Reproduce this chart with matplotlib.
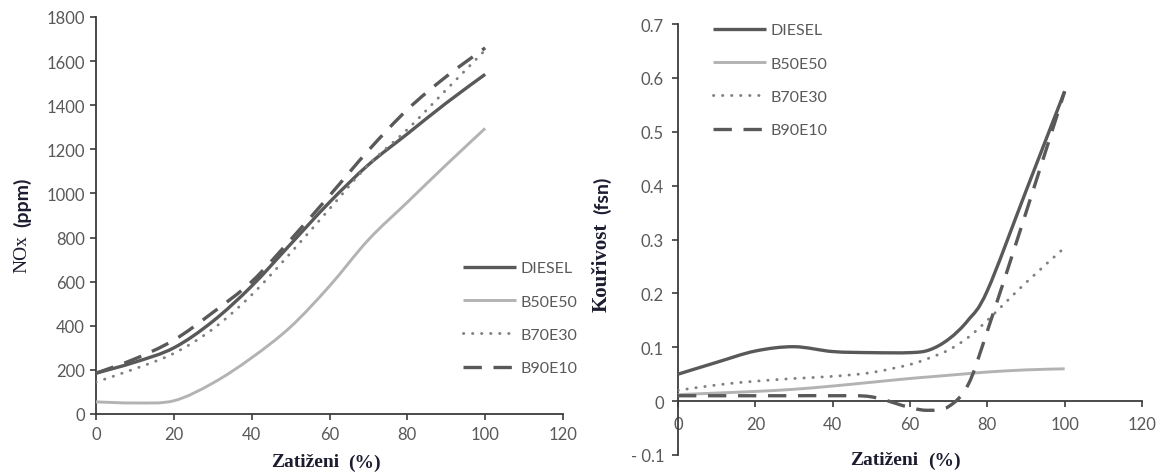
import numpy as np
import matplotlib
matplotlib.use("Agg")
import matplotlib.pyplot as plt
from matplotlib.path import Path
from matplotlib.patches import PathPatch
from matplotlib.lines import Line2D
from matplotlib.ticker import FixedLocator, FixedFormatter

# ---- data -------------------------------------------------------------
load = [0, 10, 20, 30, 40, 50, 60, 70, 80, 90, 100]
series_names = ["DIESEL", "B50E50", "B70E30", "B90E10"]

nox_diesel = [185, 235, 300, 420, 580, 770, 960, 1130, 1270, 1410, 1540]
nox_b50e50 = [55, 50, 60, 140, 255, 395, 580, 790, 960, 1130, 1295]
nox_b70e30 = [145, 205, 275, 385, 540, 730, 930, 1130, 1290, 1470, 1650]
nox_b90e10 = [185, 250, 335, 460, 600, 790, 990, 1195, 1380, 1530, 1660]

smoke_load = [0, 10, 20, 30, 40, 50, 60, 65, 70, 75, 80, 90, 100]
smoke_diesel = [0.050, 0.072, 0.093, 0.101, 0.092, 0.090, 0.090, 0.095,
                0.115, 0.150, 0.205, 0.390, 0.575]
smoke_b50e50 = [0.012, 0.015, 0.018, 0.022, 0.028, 0.035, 0.042, 0.045,
                0.048, 0.051, 0.054, 0.058, 0.060]
smoke_b70e30 = [0.020, 0.030, 0.037, 0.042, 0.046, 0.053, 0.068, 0.080,
                0.095, 0.118, 0.150, 0.220, 0.285]
smoke_b90e10 = [0.010, 0.010, 0.010, 0.010, 0.010, 0.008, -0.012, -0.017,
                -0.010, 0.030, 0.130, 0.350, 0.575]

nox_ticks = [0, 200, 400, 600, 800, 1000, 1200, 1400, 1600, 1800]
smoke_ticks = [-0.1, 0, 0.1, 0.2, 0.3, 0.4, 0.5, 0.6, 0.7]
smoke_tick_labels = ["- 0.1", "0", "0.1", "0.2", "0.3", "0.4", "0.5", "0.6", "0.7"]
x_ticks = [0, 20, 40, 60, 80, 100, 120]

# ---- styles -----------------------------------------------------------
DARK = "#595959"
LIGHT = "#b3b3b3"
MID = "#808080"
styles = {
    "DIESEL": dict(color=DARK, lw=2.4, ls="-", cap="butt"),
    "B50E50": dict(color=LIGHT, lw=2.1, ls="-", cap="butt"),
    "B70E30": dict(color=MID, lw=2.1, ls=(0, (0.1, 3.0)), cap="round"),
    "B90E10": dict(color=DARK, lw=2.4, ls=(0, (5.5, 3.5)), cap="butt"),
}

TICK_FONT = "Lato"
SERIF = "Liberation Serif"
LABEL_COLOR = "#1c1c30"
TICK_SIZE = 12
W, H = 1168, 477


def smooth_path(x, y, tension=0.5):
    """Cubic Bezier path through the points (Catmull-Rom style smoothing)."""
    x = np.asarray(x, float)
    y = np.asarray(y, float)
    verts = [(x[0], y[0])]
    codes = [Path.MOVETO]
    n = len(x)
    for i in range(n - 1):
        x0, y0 = (x[i - 1], y[i - 1]) if i > 0 else (x[i], y[i])
        x3, y3 = (x[i + 2], y[i + 2]) if i + 2 < n else (x[i + 1], y[i + 1])
        x1, y1 = x[i], y[i]
        x2, y2 = x[i + 1], y[i + 1]
        c1 = (x1 + (x2 - x0) * tension / 3, y1 + (y2 - y0) * tension / 3)
        c2 = (x2 - (x3 - x1) * tension / 3, y2 - (y3 - y1) * tension / 3)
        verts += [c1, c2, (x2, y2)]
        codes += [Path.CURVE4] * 3
    return Path(verts, codes)


def draw_series(ax, x, y, name):
    st = styles[name]
    patch = PathPatch(smooth_path(x, y), fill=False, edgecolor=st["color"],
                      lw=st["lw"], linestyle=st["ls"], capstyle=st["cap"],
                      joinstyle="round", zorder=3)
    ax.add_patch(patch)


def legend_handles():
    hs = []
    for name in series_names:
        st = styles[name]
        hs.append(Line2D([], [], color=st["color"], lw=st["lw"],
                         linestyle=st["ls"], dash_capstyle=st["cap"],
                         solid_capstyle="butt"))
    return hs


def style_axes(ax):
    for side in ("top", "right"):
        ax.spines[side].set_visible(False)
    for side in ("left", "bottom"):
        ax.spines[side].set_color("#3c3c3c")
        ax.spines[side].set_linewidth(1.3)
    ax.tick_params(axis="both", direction="out", length=4, width=1.2,
                   color="#3c3c3c", labelcolor=DARK, labelsize=TICK_SIZE)
    for lab in ax.get_xticklabels() + ax.get_yticklabels():
        lab.set_fontfamily(TICK_FONT)


def add_legend(ax, x_px, y_px, ax_left, ax_top, ax_w, ax_h):
    leg = ax.legend(legend_handles(), series_names, loc="upper left",
                    bbox_to_anchor=((x_px - ax_left) / ax_w, 1 - (y_px - ax_top) / ax_h),
                    frameon=False, handlelength=3.3, handletextpad=0.3,
                    labelspacing=1.2, borderaxespad=0, borderpad=0,
                    prop=dict(family=TICK_FONT, size=TICK_SIZE - 0.5))
    for t in leg.get_texts():
        t.set_color(DARK)
    return leg


fig = plt.figure(figsize=(W / 100, H / 100), dpi=100)
fig.patch.set_facecolor("white")

# ---- left: NOx --------------------------------------------------------
L1, T1, R1, B1 = 96, 18, 563, 415
ax1 = fig.add_axes([L1 / W, 1 - B1 / H, (R1 - L1) / W, (B1 - T1) / H])
ax1.set_xlim(0, 120)
ax1.set_ylim(0, 1800)
ax1.xaxis.set_major_locator(FixedLocator(x_ticks))
ax1.yaxis.set_major_locator(FixedLocator(nox_ticks))
for name, vals in zip(series_names, [nox_diesel, nox_b50e50, nox_b70e30, nox_b90e10]):
    draw_series(ax1, load, vals, name)
style_axes(ax1)
ax1.tick_params(axis="x", pad=5)
ax1.tick_params(axis="y", pad=4)
for lab in ax1.get_xticklabels() + ax1.get_yticklabels():
    lab.set_fontfamily(TICK_FONT)
add_legend(ax1, 463, 262, L1, T1, R1 - L1, B1 - T1)

# ---- right: smoke -----------------------------------------------------
L2, T2, R2, B2 = 678, 25, 1142, 456
ax2 = fig.add_axes([L2 / W, 1 - B2 / H, (R2 - L2) / W, (B2 - T2) / H])
ax2.set_xlim(0, 120)
ax2.set_ylim(-0.1, 0.7)
ax2.xaxis.set_major_locator(FixedLocator(x_ticks))
ax2.yaxis.set_major_locator(FixedLocator(smoke_ticks))
ax2.yaxis.set_major_formatter(FixedFormatter(smoke_tick_labels))
for name, vals in zip(series_names, [smoke_diesel, smoke_b50e50, smoke_b70e30, smoke_b90e10]):
    draw_series(ax2, smoke_load, vals, name)
style_axes(ax2)
ax2.spines["bottom"].set_position(("data", 0))
ax2.tick_params(axis="x", pad=7)
ax2.tick_params(axis="y", pad=6)
for lab in ax2.get_xticklabels() + ax2.get_yticklabels():
    lab.set_fontfamily(TICK_FONT)
add_legend(ax2, 713, 24, L2, T2, R2 - L2, B2 - T2)

# ---- axis titles (serif word + bold unit) -----------------------------
def ftext(x, y, s, **kw):
    fig.text(x / W, 1 - y / H, s, color=LABEL_COLOR, ha="center", va="center", **kw)

ftext(305, 463, "Zatiženi", family=SERIF, size=14, weight="bold")
ftext(364, 463, "(%)", family=SERIF, size=14, weight="bold")
ftext(884, 461, "Zatiženi", family=SERIF, size=14, weight="bold")
ftext(944, 461, "(%)", family=SERIF, size=14, weight="bold")

ftext(22, 254, "NOx", family=SERIF, size=14, rotation=90)
ftext(22, 202, "(ppm)", family=TICK_FONT, size=14, weight="bold", rotation=90)
ftext(602, 267, "Kouřivost", family=SERIF, size=15, weight="bold", rotation=90)
ftext(602, 195, "(fsn)", family=TICK_FONT, size=14, weight="bold", rotation=90)

fig.savefig("out.png", dpi=100, facecolor="white")
